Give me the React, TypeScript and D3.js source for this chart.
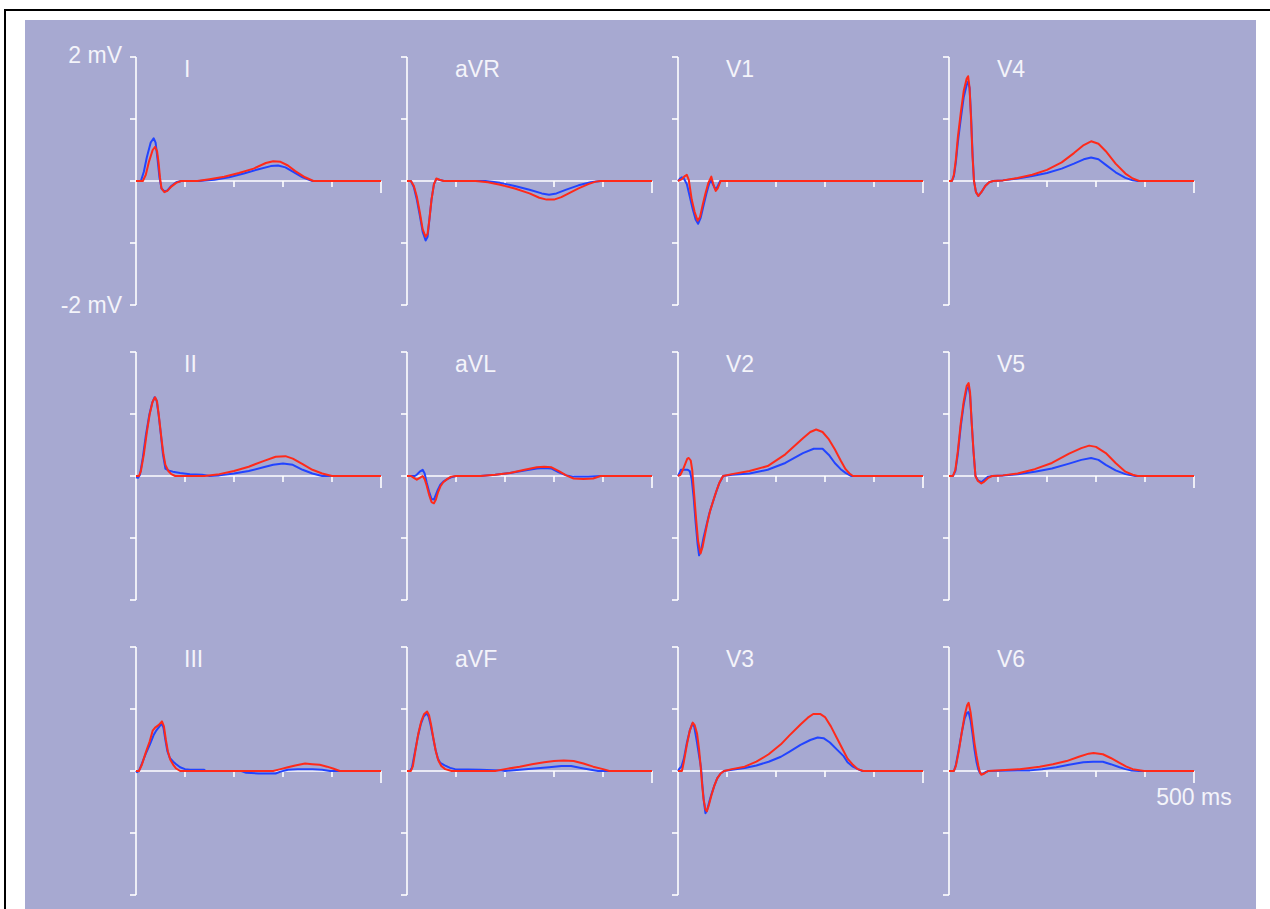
import React from 'react';
import * as d3 from 'd3';

type Pt = [number, number];

// time (ms), amplitude (mV)
const I_BLUE: Pt[] = [[0,0],[10,0],[16,0.15],[22,0.38],[30,0.62],[36,0.69],[40,0.62],[44,0.35],[48,0.05],[52,-0.12],[58,-0.17],[64,-0.15],[72,-0.08],[82,-0.02],[92,0],[130,0],[160,0.02],[190,0.06],[220,0.12],[250,0.19],[275,0.24],[290,0.25],[305,0.22],[320,0.15],[340,0.06],[360,0],[500,0]];
const I_RED: Pt[] = [[0,0],[14,0],[20,0.1],[26,0.3],[34,0.5],[39,0.55],[43,0.48],[46,0.3],[49,0.05],[52,-0.12],[58,-0.18],[64,-0.16],[72,-0.09],[82,-0.03],[92,0],[125,0],[150,0.03],[180,0.07],[210,0.13],[240,0.2],[265,0.29],[280,0.32],[295,0.31],[310,0.25],[325,0.16],[345,0.06],[362,0],[500,0]];

const II_BLUE: Pt[] = [[0,-0.02],[4,-0.03],[8,0.02],[14,0.3],[20,0.65],[27,0.98],[33,1.18],[38,1.27],[42,1.22],[46,1.0],[51,0.65],[55,0.35],[60,0.12],[66,0.09],[75,0.07],[90,0.05],[110,0.03],[135,0.02],[150,0],[170,0.01],[200,0.04],[230,0.08],[260,0.14],[280,0.18],[300,0.2],[320,0.18],[340,0.1],[360,0.04],[380,0],[500,0]];
const II_RED: Pt[] = [[0,0],[6,0],[10,0.08],[16,0.35],[22,0.7],[28,1.0],[34,1.2],[39,1.27],[43,1.2],[47,0.95],[52,0.6],[56,0.35],[60,0.18],[66,0.08],[72,0.03],[80,0],[140,0],[170,0.03],[200,0.08],[230,0.15],[260,0.24],[285,0.31],[305,0.32],[320,0.28],[340,0.19],[360,0.1],[380,0.04],[400,0],[500,0]];

const III_BLUE: Pt[] = [[0,0],[2,-0.02],[6,0],[12,0.12],[20,0.28],[28,0.42],[36,0.58],[42,0.66],[48,0.72],[52,0.77],[56,0.7],[60,0.5],[64,0.32],[69,0.21],[76,0.15],[82,0.11],[90,0.06],[100,0.03],[110,0.02],[139,0.02],[142,0],[215,0],[225,-0.03],[250,-0.04],[285,-0.04],[295,-0.01],[310,0.02],[330,0.03],[360,0.03],[380,0.02],[396,0],[500,0]];
const III_RED: Pt[] = [[0,0],[6,0],[12,0.1],[20,0.3],[28,0.48],[34,0.65],[39,0.7],[46,0.74],[53,0.8],[57,0.72],[61,0.5],[65,0.32],[70,0.18],[76,0.1],[82,0.04],[90,0],[280,0],[295,0.03],[310,0.06],[325,0.09],[345,0.12],[360,0.11],[375,0.1],[390,0.07],[402,0.04],[416,0],[500,0]];

const AVR_BLUE: Pt[] = [[0,0],[8,0],[14,-0.1],[20,-0.3],[26,-0.55],[32,-0.82],[38,-0.96],[42,-0.9],[46,-0.6],[50,-0.3],[55,-0.05],[60,0.03],[66,0.02],[75,0],[160,0],[190,-0.03],[220,-0.08],[250,-0.14],[275,-0.2],[290,-0.22],[305,-0.2],[325,-0.14],[350,-0.07],[375,-0.02],[395,0],[500,0]];
const AVR_RED: Pt[] = [[0,0],[8,0],[14,-0.08],[20,-0.25],[26,-0.5],[32,-0.78],[38,-0.9],[42,-0.85],[46,-0.6],[50,-0.3],[55,-0.05],[60,0.04],[66,0.02],[75,0],[140,0],[165,-0.02],[190,-0.06],[220,-0.12],[250,-0.2],[270,-0.27],[285,-0.3],[300,-0.3],[315,-0.26],[330,-0.2],[350,-0.12],[370,-0.05],[385,-0.01],[395,0],[500,0]];

const AVL_BLUE: Pt[] = [[0,0],[10,0],[16,0],[20,0.02],[26,0.07],[32,0.1],[36,0.04],[40,-0.1],[45,-0.25],[50,-0.37],[55,-0.38],[59,-0.3],[63,-0.22],[68,-0.14],[74,-0.09],[82,-0.05],[90,-0.02],[100,0],[150,0],[180,0.02],[210,0.05],[240,0.09],[265,0.12],[280,0.13],[295,0.12],[310,0.06],[325,0.01],[340,-0.01],[370,-0.01],[395,0],[500,0]];
const AVL_RED: Pt[] = [[0,0],[8,0],[14,-0.03],[20,-0.06],[26,-0.03],[32,0],[36,-0.05],[40,-0.15],[45,-0.3],[50,-0.42],[55,-0.44],[59,-0.38],[63,-0.27],[68,-0.17],[74,-0.1],[82,-0.05],[90,-0.01],[100,0],[150,0],[180,0.02],[210,0.05],[240,0.1],[265,0.14],[280,0.15],[295,0.14],[310,0.08],[325,0.01],[340,-0.04],[360,-0.05],[380,-0.04],[395,0],[500,0]];

const AVF_BLUE: Pt[] = [[0,0],[6,0],[10,0.05],[16,0.3],[22,0.55],[28,0.75],[34,0.88],[40,0.93],[44,0.88],[48,0.75],[53,0.55],[58,0.35],[63,0.2],[68,0.13],[77,0.09],[88,0.05],[98,0.03],[150,0.02],[190,0.01],[200,0],[230,0.02],[260,0.04],[290,0.06],[315,0.08],[335,0.08],[355,0.05],[375,0.02],[390,0],[500,0]];
const AVF_RED: Pt[] = [[0,0],[8,0],[12,0.08],[17,0.32],[23,0.6],[29,0.8],[35,0.92],[41,0.96],[45,0.9],[49,0.75],[54,0.52],[59,0.31],[64,0.17],[70,0.08],[78,0.03],[91,0],[180,0],[200,0.03],[230,0.07],[255,0.11],[280,0.14],[300,0.16],[320,0.17],[340,0.16],[360,0.12],[380,0.07],[400,0.03],[413,0],[500,0]];

const V1_BLUE: Pt[] = [[0,0],[4,0.04],[8,0.06],[12,0.04],[18,-0.05],[24,-0.25],[30,-0.45],[36,-0.62],[41,-0.69],[46,-0.6],[52,-0.4],[58,-0.2],[63,-0.06],[67,0.02],[71,-0.05],[76,-0.13],[80,-0.1],[86,0],[500,0]];
const V1_RED: Pt[] = [[0,0],[8,0.03],[14,0.08],[18,0.1],[22,0.02],[28,-0.3],[34,-0.5],[40,-0.64],[45,-0.58],[50,-0.4],[56,-0.2],[62,-0.03],[68,0.07],[72,-0.05],[77,-0.16],[81,-0.12],[87,0],[500,0]];

const V2_BLUE: Pt[] = [[0,0],[3,0.05],[6,0.1],[12,0.1],[20,0.1],[24,0.08],[28,-0.05],[32,-0.35],[36,-0.75],[40,-1.1],[43,-1.28],[47,-1.2],[52,-1.0],[58,-0.8],[64,-0.6],[70,-0.45],[76,-0.3],[84,-0.12],[92,0],[110,0.02],[146,0.04],[183,0.1],[219,0.21],[255,0.37],[277,0.44],[295,0.44],[308,0.34],[320,0.21],[332,0.11],[342,0.05],[353,0],[500,0]];
const V2_RED: Pt[] = [[0,0],[5,0.02],[10,0.1],[15,0.2],[19,0.28],[22,0.29],[26,0.25],[29,0.1],[33,-0.3],[37,-0.7],[41,-1.05],[46,-1.25],[50,-1.15],[55,-0.95],[60,-0.75],[66,-0.55],[72,-0.4],[78,-0.25],[85,-0.1],[92,0],[110,0.03],[146,0.08],[183,0.16],[219,0.35],[255,0.61],[270,0.71],[282,0.75],[295,0.71],[308,0.59],[320,0.43],[332,0.25],[342,0.11],[350,0.04],[357,0],[500,0]];

const V3_BLUE: Pt[] = [[0,0],[3,0.04],[7,0.07],[12,0.2],[18,0.45],[24,0.65],[29,0.76],[33,0.72],[38,0.5],[43,0.25],[47,0.05],[50,-0.25],[53,-0.5],[56,-0.68],[59,-0.64],[63,-0.52],[68,-0.38],[74,-0.24],[80,-0.12],[87,-0.04],[94,0],[110,0.02],[136,0.05],[160,0.09],[185,0.15],[210,0.23],[227,0.31],[250,0.42],[270,0.5],[285,0.54],[297,0.53],[310,0.46],[325,0.34],[338,0.24],[346,0.14],[357,0.07],[367,0.03],[376,0],[500,0]];
const V3_RED: Pt[] = [[0,0],[8,0],[12,0.15],[18,0.42],[24,0.65],[30,0.78],[34,0.74],[39,0.6],[43,0.35],[46,0.1],[49,-0.2],[52,-0.45],[56,-0.62],[59,-0.65],[63,-0.55],[68,-0.4],[74,-0.24],[80,-0.12],[87,-0.04],[94,0],[110,0.03],[136,0.07],[160,0.15],[185,0.27],[210,0.43],[227,0.57],[250,0.75],[265,0.86],[276,0.92],[290,0.92],[300,0.87],[312,0.72],[325,0.52],[336,0.35],[346,0.2],[357,0.1],[367,0.03],[378,0],[500,0]];

const V4_BLUE: Pt[] = [[0,0],[6,0],[10,0.08],[14,0.3],[18,0.62],[24,1.0],[30,1.35],[36,1.55],[39,1.6],[42,1.5],[45,1.05],[48,0.45],[51,0],[55,-0.18],[60,-0.24],[66,-0.18],[74,-0.08],[82,-0.02],[90,0],[110,0.01],[140,0.04],[170,0.08],[200,0.13],[230,0.2],[255,0.28],[275,0.35],[290,0.38],[305,0.35],[320,0.26],[340,0.14],[360,0.05],[375,0.01],[385,0],[500,0]];
const V4_RED: Pt[] = [[0,0],[6,0],[10,0.1],[14,0.35],[18,0.7],[24,1.1],[30,1.45],[36,1.65],[39,1.69],[42,1.5],[45,1.0],[48,0.4],[51,0],[55,-0.18],[60,-0.24],[66,-0.18],[74,-0.08],[82,-0.02],[90,0],[110,0.01],[140,0.05],[170,0.1],[200,0.18],[230,0.3],[255,0.45],[275,0.58],[290,0.64],[305,0.6],[320,0.48],[340,0.28],[360,0.12],[375,0.04],[388,0],[500,0]];

const V5_BLUE: Pt[] = [[0,0],[8,0],[13,0.08],[18,0.35],[24,0.8],[30,1.15],[36,1.4],[40,1.44],[43,1.3],[46,0.9],[50,0.4],[54,0],[59,-0.07],[66,-0.1],[72,-0.06],[80,-0.01],[88,0],[110,0.01],[140,0.03],[175,0.07],[210,0.12],[245,0.2],[270,0.26],[290,0.29],[305,0.26],[320,0.18],[340,0.09],[360,0.03],[380,0],[500,0]];
const V5_RED: Pt[] = [[0,0],[8,0],[13,0.1],[18,0.4],[24,0.85],[30,1.2],[36,1.45],[40,1.5],[43,1.35],[46,0.9],[50,0.4],[54,0],[59,-0.08],[66,-0.12],[72,-0.09],[80,-0.03],[88,0],[110,0.01],[140,0.04],[175,0.11],[210,0.21],[245,0.36],[270,0.45],[286,0.49],[300,0.47],[320,0.37],[340,0.21],[360,0.07],[375,0.02],[385,0],[500,0]];

const V6_BLUE: Pt[] = [[0,0],[10,0],[14,0.1],[20,0.35],[26,0.62],[32,0.85],[37,0.94],[40,0.95],[44,0.82],[48,0.6],[52,0.35],[56,0.15],[60,0.02],[64,-0.04],[68,-0.05],[74,-0.02],[80,0],[165,0.01],[190,0.03],[219,0.06],[245,0.1],[274,0.14],[294,0.15],[314,0.15],[330,0.11],[348,0.06],[360,0.03],[371,0.01],[388,0],[500,0]];
const V6_RED: Pt[] = [[0,0],[10,0],[14,0.08],[20,0.32],[26,0.62],[32,0.9],[37,1.06],[40,1.1],[44,0.95],[48,0.7],[52,0.45],[56,0.25],[60,0.08],[63,-0.02],[66,-0.06],[72,-0.04],[80,0],[144,0.03],[165,0.05],[185,0.07],[212,0.11],[240,0.16],[265,0.23],[285,0.28],[295,0.29],[314,0.27],[330,0.21],[348,0.13],[362,0.07],[375,0.03],[398,0],[500,0]];

const LEAD_NAMES: string[][] = [
  ['I', 'aVR', 'V1', 'V4'],
  ['II', 'aVL', 'V2', 'V5'],
  ['III', 'aVF', 'V3', 'V6'],
];
const BLUE_SERIES: Pt[][][] = [
  [I_BLUE, AVR_BLUE, V1_BLUE, V4_BLUE],
  [II_BLUE, AVL_BLUE, V2_BLUE, V5_BLUE],
  [III_BLUE, AVF_BLUE, V3_BLUE, V6_BLUE],
];
const RED_SERIES: Pt[][][] = [
  [I_RED, AVR_RED, V1_RED, V4_RED],
  [II_RED, AVL_RED, V2_RED, V5_RED],
  [III_RED, AVF_RED, V3_RED, V6_RED],
];

const TIME_TICKS = [100, 200, 300, 400, 500];
const VOLT_TICKS = [-2, -1, 0, 1, 2];
const Y_TOP_LABEL = '2 mV';
const Y_BOTTOM_LABEL = '-2 mV';
const X_LABEL = '500 ms';

// layout
const W = 1270;
const H = 909;
const COL_X = [136, 407, 678, 949];
const ROW_TOP = [57, 352, 647];
const PANEL_W = 245;
const PANEL_H = 248;
const BG = '#a7a9d1';
const AXIS = '#ffffff';
const TEXT = '#f4f4fa';
const BLUE = '#2244ff';
const RED = '#ff2a1a';
const FONT = '"Liberation Sans", Arial, sans-serif';
const FS = 23;

function Panel({ row, col }: { row: number; col: number }) {
  const x0 = COL_X[col];
  const top = ROW_TOP[row];
  const x = d3.scaleLinear().domain([0, 500]).range([x0, x0 + PANEL_W]);
  const y = d3.scaleLinear().domain([-2, 2]).range([top + PANEL_H, top]);
  const line = d3
    .line<Pt>()
    .x((d) => x(d[0]))
    .y((d) => y(d[1]));
  const z = y(0);
  const isFirst = row === 0 && col === 0;
  const isLast = row === 2 && col === 3;
  return (
    <g>
      <line x1={x0} x2={x0} y1={y(2)} y2={y(-2)} stroke={AXIS} strokeWidth={1.6} />
      {VOLT_TICKS.map((v) => (
        <line key={v} x1={x0 - 6} x2={x0} y1={y(v)} y2={y(v)} stroke={AXIS} strokeWidth={1.6} />
      ))}
      <line x1={x0} x2={x(500)} y1={z} y2={z} stroke={AXIS} strokeWidth={1.6} />
      {TIME_TICKS.map((t) => (
        <line key={t} x1={x(t)} x2={x(t)} y1={z} y2={z + (t === 500 ? 12 : 6)} stroke={AXIS} strokeWidth={1.6} />
      ))}
      <text x={x0 + 48} y={top + 20} fill={TEXT} fontSize={FS} fontFamily={FONT}>
        {LEAD_NAMES[row][col]}
      </text>
      {isFirst && (
        <>
          <text x={x0 - 14} y={y(2) + 6} fill={TEXT} fontSize={FS} fontFamily={FONT} textAnchor="end">
            {Y_TOP_LABEL}
          </text>
          <text x={x0 - 14} y={y(-2) + 8} fill={TEXT} fontSize={FS} fontFamily={FONT} textAnchor="end">
            {Y_BOTTOM_LABEL}
          </text>
        </>
      )}
      {isLast && (
        <text x={x(500)} y={z + 34} fill={TEXT} fontSize={FS} fontFamily={FONT} textAnchor="middle">
          {X_LABEL}
        </text>
      )}
      <path d={line(BLUE_SERIES[row][col]) || ''} fill="none" stroke={BLUE} strokeWidth={2} strokeLinejoin="round" />
      <path d={line(RED_SERIES[row][col]) || ''} fill="none" stroke={RED} strokeWidth={2} strokeLinejoin="round" />
    </g>
  );
}

export default function App() {
  return (
    <svg
      width={W}
      height={H}
      style={{ position: 'absolute', left: 0, top: 0, display: 'block' }}
    >
      <rect x={0} y={0} width={W} height={H} fill="#ffffff" />
      <rect x={5} y={10} width={W + 10} height={H + 10} fill="#ffffff" stroke="#000000" strokeWidth={2} />
      <rect x={25} y={20} width={1231} height={H - 20} fill={BG} />
      {LEAD_NAMES.map((r, ri) => r.map((_, ci) => <Panel key={`${ri}-${ci}`} row={ri} col={ci} />))}
    </svg>
  );
}
